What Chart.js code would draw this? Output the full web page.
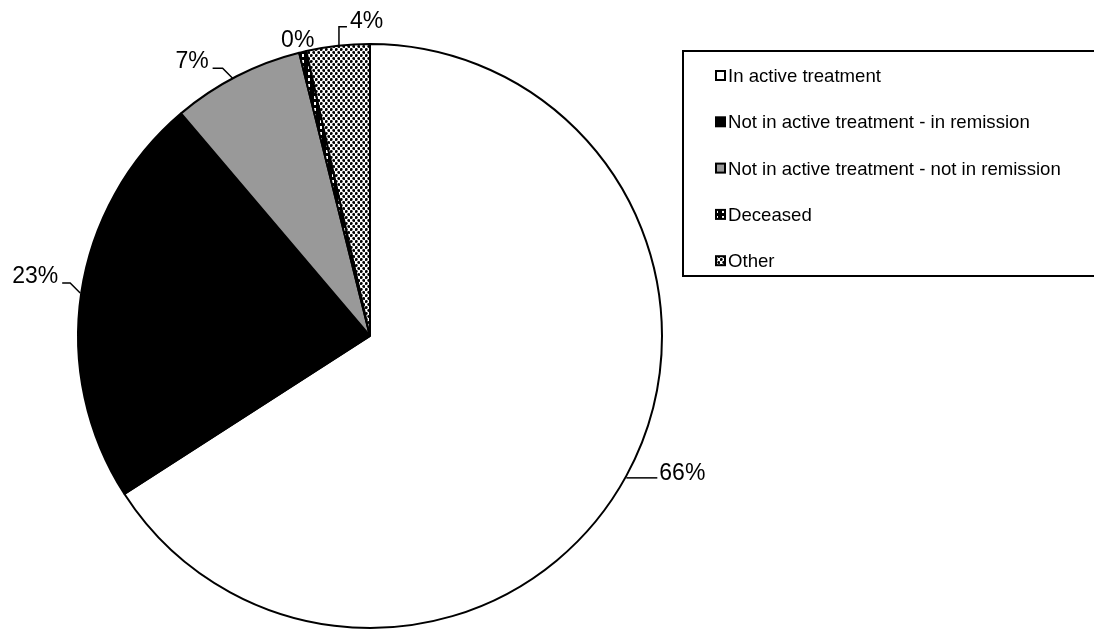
<!DOCTYPE html>
<html>
<head>
<meta charset="utf-8">
<script src="https://cdn.jsdelivr.net/npm/chart.js@4.4.1/dist/chart.umd.min.js"></script>
<style>
  html, body { margin: 0; padding: 0; background: #fff; }
  canvas { display: block; }
</style>
</head>
<body>
<canvas id="statusPie" width="1094" height="631"></canvas>
<script>
const categories = [
  'In active treatment',
  'Not in active treatment - in remission',
  'Not in active treatment - not in remission',
  'Deceased',
  'Other'
];
const shares = [65.9, 22.9, 7.3, 0.4, 3.5];

// -------------------------- fill patterns -------------------------------- //
function makePattern(w, h, draw) {
  const tile = document.createElement('canvas');
  tile.width = w;
  tile.height = h;
  const g = tile.getContext('2d');
  draw(g);
  return g.createPattern(tile, 'repeat');
}

// black with short white dashes
const dashFill = makePattern(6, 6, g => {
  g.fillStyle = '#000';
  g.fillRect(0, 0, 6, 6);
  g.fillStyle = '#fff';
  g.fillRect(2, 0, 2, 3);
});

// staggered black dots on white
const dotFill = makePattern(5, 6, g => {
  g.fillStyle = '#fff';
  g.fillRect(0, 0, 5, 6);
  g.fillStyle = '#000';
  g.beginPath();
  g.arc(1.25, 1.5, 1.45, 0, Math.PI * 2);
  g.fill();
  g.beginPath();
  g.arc(3.75, 4.5, 1.45, 0, Math.PI * 2);
  g.fill();
});

const sliceFills = ['#ffffff', '#000000', '#999999', dashFill, dotFill];

// leader lines (points relative to the slice's outer mid point) and text spot
const labelLayout = [
  { path: [[0, 2], [31, 2]], text: [33, 4], align: 'left' },
  { path: [[-1, 0], [-11, -10], [-19, -10]], text: [-23, -10], align: 'right' },
  { path: [[-4, 2], [-14, -8], [-24, -8]], text: [-28, -8], align: 'right' },
  { path: [], text: [-5, -5], align: 'center' },
  { path: [[1, 1], [1, -19], [9, -19]], text: [12, -18], align: 'left' }
];

const sliceLabels = {
  id: 'sliceLabels',
  afterDatasetsDraw(chart) {
    const ctx = chart.ctx;
    const arcs = chart.getDatasetMeta(0).data;
    ctx.save();
    ctx.font = '23px "Liberation Sans", Arial, sans-serif';
    ctx.fillStyle = '#000';
    ctx.strokeStyle = '#000';
    ctx.lineWidth = 1.5;
    ctx.textBaseline = 'alphabetic';
    arcs.forEach((arc, i) => {
      const p = arc.getProps(['x', 'y', 'startAngle', 'endAngle', 'outerRadius']);
      const mid = (p.startAngle + p.endAngle) / 2;
      const ax = p.x + Math.cos(mid) * p.outerRadius;
      const ay = p.y + Math.sin(mid) * p.outerRadius;
      const lay = labelLayout[i];
      if (lay.path.length) {
        ctx.beginPath();
        lay.path.forEach(([dx, dy], k) => {
          if (k === 0) ctx.moveTo(ax + dx, ay + dy);
          else ctx.lineTo(ax + dx, ay + dy);
        });
        ctx.stroke();
      }
      ctx.textAlign = lay.align;
      ctx.fillText(Math.round(shares[i]) + '%', ax + lay.text[0], ay + lay.text[1]);
    });
    ctx.restore();
  }
};

// -------------------------- boxed legend -------------------------------- //
const boxLegend = {
  id: 'boxLegend',
  afterDraw(chart) {
    const ctx = chart.ctx;
    ctx.save();
    ctx.strokeStyle = '#000';
    ctx.lineWidth = 2;
    ctx.strokeRect(683, 51, 430, 225);
    ctx.font = '18.6px "Liberation Sans", Arial, sans-serif';
    ctx.textBaseline = 'alphabetic';
    ctx.textAlign = 'left';
    categories.forEach((name, i) => {
      const base = 82 + i * 46.3;
      ctx.fillStyle = sliceFills[i];
      ctx.fillRect(716, base - 11, 9, 9);
      ctx.strokeRect(716, base - 11, 9, 9);
      ctx.fillStyle = '#000';
      ctx.fillText(name, 728, base);
    });
    ctx.restore();
  }
};

const ctx1 = document.getElementById('statusPie');
const statusPie = new Chart(ctx1, {
  type: 'pie',
  data: {
    labels: categories,
    datasets: [{
      data: shares,
      backgroundColor: sliceFills,
      borderColor: '#000',
      borderWidth: 2
    }]
  },
  options: {
    responsive: false,
    animation: false,
    events: [],
    layout: {
      padding: { left: 77, top: 43, right: 431, bottom: 2 }
    },
    plugins: {
      legend: { display: false },
      tooltip: { enabled: false }
    }
  },
  plugins: [sliceLabels, boxLegend]
});
</script>
</body>
</html>
